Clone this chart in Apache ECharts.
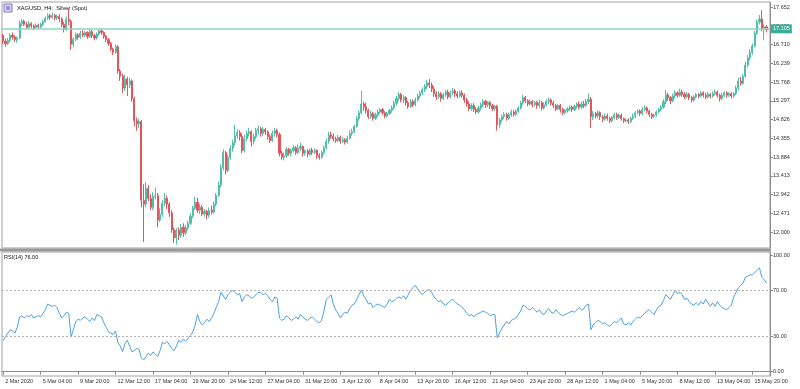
<!DOCTYPE html>
<html><head><meta charset="utf-8">
<script src="https://cdn.jsdelivr.net/npm/echarts@6/dist/echarts.min.js"></script>
<style>html,body{margin:0;padding:0;background:#fff}#c{width:800px;height:389px}</style>
</head><body><div id="c"></div>
<script>
const symbolTitle = 'XAGUSD, H4:  Silver (Spot)';
const rsiTitle = 'RSI(14) 76.00';
const timeLabels = ['2 Mar 2020','5 Mar 04:00','9 Mar 20:00','12 Mar 12:00','17 Mar 04:00','19 Mar 20:00','24 Mar 12:00','27 Mar 04:00','31 Mar 20:00','3 Apr 12:00','8 Apr 04:00','13 Apr 20:00','16 Apr 12:00','21 Apr 04:00','23 Apr 20:00','28 Apr 12:00','1 May 04:00','5 May 20:00','8 May 12:00','13 May 04:00','15 May 20:00'];
const labelEvery = 16;
const priceTicks = [12.000,12.471,12.942,13.413,13.884,14.355,14.826,15.297,15.768,16.239,16.710,17.181,17.652];
const rsiTicks = [0,30,70,100];
const rsiLevels = [30,70];
const currentPrice = 17.105;
// [open, close, low, high] per H4 bar
const candles = [
[16.95,16.80,16.72,16.98],[16.80,16.74,16.66,16.86],[16.74,16.82,16.70,16.88],[16.82,16.95,16.78,17.00],[16.95,16.90,16.84,17.02],
[16.90,16.84,16.78,16.95],[16.84,16.88,16.76,16.92],[16.88,17.25,16.85,17.32],[17.25,17.30,17.18,17.36],[17.30,17.22,17.18,17.34],
[17.22,17.15,17.10,17.28],[17.15,17.24,17.12,17.30],[17.24,17.18,17.12,17.28],[17.18,17.14,17.08,17.22],[17.14,17.20,17.10,17.25],
[17.20,17.16,17.11,17.24],[17.16,17.22,17.12,17.27],[17.22,17.30,17.18,17.34],[17.30,17.38,17.26,17.42],[17.38,17.44,17.33,17.50],
[17.44,17.40,17.34,17.49],[17.40,17.45,17.36,17.52],[17.45,17.38,17.32,17.48],[17.38,17.42,17.33,17.47],[17.42,17.36,17.28,17.48],
[17.36,17.22,17.15,17.40],[17.22,17.10,17.02,17.28],[17.10,17.35,17.06,17.42],[17.35,17.30,17.20,17.62],[17.30,16.72,16.58,17.34],
[16.72,16.85,16.64,16.90],[16.85,16.96,16.80,17.02],[16.96,16.90,16.84,17.00],[16.90,17.00,16.86,17.06],[17.00,16.95,16.90,17.08],
[16.95,17.02,16.90,17.06],[17.02,16.92,16.86,17.05],[16.92,17.04,16.88,17.10],[17.04,16.94,16.88,17.08],[16.94,16.88,16.82,16.98],
[16.88,16.98,16.84,17.02],[16.98,17.06,16.94,17.10],[17.06,17.02,16.96,17.12],[17.02,16.92,16.86,17.05],[16.92,16.84,16.78,16.96],
[16.84,16.74,16.68,16.88],[16.74,16.60,16.55,16.78],[16.60,16.52,16.45,16.64],[16.52,16.66,16.48,16.72],[16.66,16.05,15.98,16.70],
[16.05,15.92,15.80,16.10],[15.92,15.62,15.50,15.98],[15.62,15.85,15.55,15.95],[15.85,15.70,15.42,15.90],[15.70,15.80,15.62,15.88],
[15.80,15.35,15.28,15.84],[15.35,14.80,14.66,15.40],[14.80,14.72,14.55,14.88],[14.72,14.78,14.62,14.85],[14.78,12.80,12.62,14.82],
[12.80,12.70,11.75,13.20],[12.70,13.10,12.62,13.25],[13.10,12.85,12.78,13.18],[12.85,12.62,12.55,12.95],[12.62,12.90,12.55,13.00],
[12.90,12.92,12.82,13.12],[12.92,12.30,12.12,12.98],[12.30,12.45,12.25,12.60],[12.45,12.72,12.38,12.80],[12.72,12.85,12.65,12.98],
[12.85,12.70,12.58,12.92],[12.70,12.48,12.38,12.75],[12.48,12.05,11.98,12.55],[12.05,11.85,11.72,12.12],[11.85,12.05,11.68,12.10],
[12.05,11.92,11.80,12.12],[11.92,12.12,11.85,12.20],[12.12,11.98,11.88,12.22],[11.98,12.10,11.92,12.18],[12.10,12.22,12.05,12.28],
[12.22,12.40,12.18,12.48],[12.40,12.60,12.35,12.66],[12.60,12.75,12.55,12.88],[12.75,12.55,12.48,12.86],[12.55,12.62,12.45,12.70],
[12.62,12.45,12.40,12.68],[12.45,12.52,12.38,12.58],[12.52,12.42,12.32,12.56],[12.42,12.55,12.36,12.62],[12.55,12.50,12.44,12.66],
[12.50,12.70,12.46,12.76],[12.70,12.92,12.65,12.98],[12.92,13.18,12.88,13.26],[13.18,13.62,13.12,13.70],[13.62,14.00,13.55,14.08],
[14.00,13.55,13.45,14.04],[13.55,13.88,13.50,13.95],[13.88,14.10,13.82,14.18],[14.10,14.25,14.02,14.32],[14.25,14.42,14.18,14.70],
[14.42,14.50,14.35,14.58],[14.50,14.40,14.30,14.56],[14.40,14.05,13.98,14.48],[14.05,14.35,14.00,14.44],[14.35,14.48,14.28,14.55],
[14.48,14.52,14.40,14.62],[14.52,14.28,14.15,14.56],[14.28,14.40,14.20,14.48],[14.40,14.55,14.34,14.62],[14.55,14.60,14.45,14.68],
[14.60,14.48,14.40,14.64],[14.48,14.58,14.42,14.64],[14.58,14.52,14.44,14.62],[14.52,14.40,14.32,14.56],[14.40,14.30,14.24,14.45],
[14.30,14.48,14.26,14.55],[14.48,14.55,14.40,14.62],[14.55,14.45,14.38,14.60],[14.45,13.98,13.90,14.50],[13.98,13.88,13.82,14.05],
[13.88,13.92,13.80,14.00],[13.92,14.08,13.86,14.14],[14.08,13.98,13.92,14.12],[13.98,14.05,13.90,14.10],[14.05,14.12,14.00,14.18],
[14.12,14.00,13.94,14.16],[14.00,14.10,13.96,14.20],[14.10,14.15,14.04,14.25],[14.15,13.98,13.90,14.18],[13.98,14.04,13.92,14.08],
[14.04,13.96,13.88,14.08],[13.96,14.06,13.92,14.10],[14.06,14.00,13.94,14.12],[14.00,14.05,13.96,14.10],[14.05,13.92,13.84,14.08],
[13.92,13.88,13.82,13.98],[13.88,14.00,13.84,14.05],[14.00,14.12,13.95,14.18],[14.12,14.28,14.08,14.35],[14.28,14.44,14.22,14.52],
[14.44,14.40,14.34,14.52],[14.40,14.34,14.28,14.48],[14.34,14.30,14.24,14.40],[14.30,14.38,14.26,14.44],[14.38,14.28,14.22,14.42],
[14.28,14.32,14.24,14.38],[14.32,14.26,14.20,14.36],[14.26,14.36,14.22,14.42],[14.36,14.48,14.32,14.56],[14.48,14.52,14.42,14.60],
[14.52,14.66,14.48,14.70],[14.66,14.85,14.62,14.92],[14.85,15.00,14.80,15.06],[15.00,15.22,14.95,15.55],[15.22,15.15,15.05,15.28],
[15.15,15.05,14.98,15.25],[15.05,14.90,14.84,15.10],[14.90,14.98,14.85,15.05],[14.98,14.86,14.80,15.02],[14.86,14.95,14.82,15.00],
[14.95,15.02,14.90,15.08],[15.02,15.08,14.96,15.12],[15.08,15.00,14.94,15.12],[15.00,14.92,14.86,15.04],[14.92,14.98,14.88,15.02],
[14.98,15.06,14.94,15.10],[15.06,15.12,15.00,15.18],[15.12,15.24,15.08,15.30],[15.24,15.36,15.18,15.42],[15.36,15.46,15.30,15.52],
[15.46,15.32,15.26,15.50],[15.32,15.38,15.24,15.44],[15.38,15.25,15.18,15.42],[15.25,15.16,15.10,15.30],[15.16,15.28,15.12,15.34],
[15.28,15.20,15.14,15.34],[15.20,15.32,15.16,15.38],[15.32,15.42,15.28,15.48],[15.42,15.50,15.36,15.55],[15.50,15.58,15.44,15.64],
[15.58,15.66,15.52,15.72],[15.66,15.75,15.60,15.82],[15.75,15.70,15.62,15.85],[15.70,15.60,15.52,15.76],[15.60,15.48,15.40,15.66],
[15.48,15.40,15.32,15.54],[15.40,15.48,15.35,15.54],[15.48,15.36,15.28,15.52],[15.36,15.45,15.32,15.50],[15.45,15.52,15.40,15.58],
[15.52,15.40,15.34,15.58],[15.40,15.50,15.36,15.56],[15.50,15.55,15.44,15.62],[15.55,15.48,15.40,15.60],[15.48,15.42,15.36,15.54],
[15.42,15.50,15.38,15.56],[15.50,15.44,15.38,15.56],[15.44,15.32,15.25,15.48],[15.32,15.22,15.15,15.38],[15.22,15.10,15.04,15.28],
[15.10,15.18,15.05,15.24],[15.18,15.08,15.02,15.24],[15.08,15.02,14.96,15.14],[15.02,15.12,14.98,15.18],[15.12,15.20,15.06,15.26],
[15.20,15.28,15.14,15.34],[15.28,15.20,15.12,15.32],[15.20,15.26,15.14,15.30],[15.26,15.18,15.10,15.30],[15.18,15.10,15.04,15.22],
[15.10,15.16,15.04,15.20],[15.16,14.70,14.55,15.20],[14.70,14.82,14.62,14.88],[14.82,14.90,14.76,14.96],[14.90,14.96,14.84,15.02],
[14.96,14.86,14.80,15.00],[14.86,14.95,14.82,15.00],[14.95,15.02,14.90,15.08],[15.02,14.96,14.90,15.06],[14.96,15.04,14.92,15.08],
[15.04,15.12,15.00,15.16],[15.12,15.25,15.08,15.30],[15.25,15.38,15.20,15.45],[15.38,15.30,15.24,15.42],[15.30,15.22,15.16,15.34],
[15.22,15.28,15.18,15.34],[15.28,15.20,15.14,15.32],[15.20,15.26,15.16,15.30],[15.26,15.18,15.10,15.30],[15.18,15.25,15.12,15.32],
[15.25,15.12,15.06,15.30],[15.12,15.20,15.08,15.26],[15.20,15.28,15.16,15.34],[15.28,15.32,15.22,15.38],[15.32,15.24,15.18,15.36],
[15.24,15.18,15.12,15.30],[15.18,15.10,15.04,15.22],[15.10,15.18,15.06,15.22],[15.18,15.08,15.00,15.22],[15.08,15.00,14.94,15.12],
[15.00,15.06,14.96,15.10],[15.06,15.10,15.00,15.14],[15.10,15.14,15.04,15.18],[15.14,15.08,15.02,15.18],[15.08,15.16,15.04,15.20],
[15.16,15.22,15.10,15.26],[15.22,15.14,15.08,15.28],[15.14,15.22,15.10,15.28],[15.22,15.18,15.12,15.30],[15.18,15.28,15.14,15.34],
[15.28,15.34,15.22,15.48],[15.34,14.90,14.62,15.40],[14.90,14.98,14.82,15.04],[14.98,14.92,14.86,15.02],[14.92,15.00,14.86,15.06],
[15.00,14.90,14.82,15.04],[14.90,14.84,14.76,14.94],[14.84,14.92,14.80,14.98],[14.92,14.86,14.80,14.98],[14.86,14.80,14.74,14.90],
[14.80,14.88,14.76,14.92],[14.88,14.95,14.84,15.00],[14.95,14.88,14.82,15.00],[14.88,14.94,14.84,14.98],[14.94,14.85,14.80,14.98],
[14.85,14.80,14.74,14.88],[14.80,14.82,14.76,14.86],[14.82,14.78,14.72,14.86],[14.78,14.86,14.74,14.90],[14.86,14.92,14.82,14.98],
[14.92,15.00,14.86,15.04],[15.00,15.04,14.96,15.08],[15.04,14.98,14.92,15.08],[14.98,15.08,14.94,15.14],[15.08,15.12,15.04,15.18],
[15.12,15.04,14.98,15.16],[15.04,14.96,14.90,15.08],[14.96,14.90,14.84,15.00],[14.90,14.94,14.86,14.98],[14.94,15.02,14.90,15.06],
[15.02,15.08,14.98,15.12],[15.08,15.14,15.04,15.18],[15.14,15.28,15.10,15.34],[15.28,15.45,15.22,15.57],[15.45,15.38,15.30,15.50],
[15.38,15.30,15.22,15.42],[15.30,15.42,15.26,15.48],[15.42,15.50,15.36,15.56],[15.50,15.44,15.38,15.54],[15.44,15.52,15.40,15.60],
[15.52,15.46,15.40,15.58],[15.46,15.40,15.34,15.52],[15.40,15.46,15.36,15.52],[15.46,15.38,15.32,15.50],[15.38,15.32,15.26,15.42],
[15.32,15.40,15.28,15.44],[15.40,15.46,15.36,15.50],[15.46,15.42,15.36,15.50],[15.42,15.50,15.38,15.54],[15.50,15.44,15.38,15.54],
[15.44,15.40,15.34,15.50],[15.40,15.46,15.36,15.52],[15.46,15.42,15.36,15.50],[15.42,15.48,15.38,15.54],[15.48,15.52,15.44,15.58],
[15.52,15.44,15.38,15.56],[15.44,15.36,15.28,15.48],[15.36,15.44,15.32,15.50],[15.44,15.50,15.40,15.54],[15.50,15.44,15.38,15.54],
[15.44,15.48,15.40,15.52],[15.48,15.42,15.36,15.52],[15.42,15.48,15.38,15.52],[15.48,15.62,15.44,15.68],[15.62,15.80,15.56,15.88],
[15.80,15.74,15.68,15.90],[15.74,15.92,15.70,15.98],[15.92,16.20,15.88,16.28],[16.20,16.38,16.14,16.45],[16.38,16.52,16.32,16.60],
[16.52,16.68,16.46,16.74],[16.68,17.00,16.64,17.06],[17.00,17.28,16.96,17.34],[17.28,17.36,17.22,17.46],[17.36,17.12,17.05,17.58],
[17.12,17.16,16.82,17.22],[17.16,17.10,17.02,17.20]
];
const rsi = [
26.5,30,33,36,35,33,38,47,48,46, 48,47,49,46,47,48,47,50,53,58, 57,56,57,55,50,46,48,51,50,30,
36,43,45,44,46,47,45,43,46,44, 49,48,47,42,38,34,33,32,35,25, 22,17,24,27,22,17,18,20,19,12,
10,13,16,14,17,15,13,18,25,24, 26,23,20,18,22,27,25,28,26,29, 31,34,40,49,43,40,42,45,43,46,
50,55,60,68,65,62,66,68,70,68, 66,67,60,64,66,65,63,64,66,68, 68,66,67,65,62,60,64,63,46,44,
45,48,46,44,45,47,45,49,47,45, 44,46,47,45,43,42,44,52,62,64, 66,58,53,50,46,49,51,50,54,57,
58,62,66,70,65,62,58,59,55,57, 58,57,56,55,58,62,60,61,63,64, 63,65,62,66,70,72,74,71,68,66,
68,70,70,68,64,62,60,61,58,57, 59,61,62,60,58,57,55,53,50,48, 49,47,49,50,51,52,51,50,48,49,
49,29,33,37,40,43,41,44,45,46, 49,52,57,56,54,53,55,53,51,53, 50,49,52,54,51,50,53,51,49,48,
49,50,51,52,51,53,55,53,54,57, 58,36,40,42,44,43,41,42,40,39, 41,43,42,44,46,41,40,42,40,43,
45,47,46,48,50,52,53,51,49,53, 56,57,61,66,64,62,66,70,67,68, 66,62,63,60,58,57,59,57,60,58,
62,59,56,59,56,60,57,55,54,53, 55,57,64,68,72,74,76,81,82,83, 83,85,87,89,81,79,76
];

const FONT = '"Liberation Sans",Arial,sans-serif';
const FS = 5.5;
const cats = Array.from({length: candles.length + 1}, (_, i) => i);
const showIdx = i => i % labelEvery === 0 && i / labelEvery < timeLabels.length;
const chart = echarts.init(document.getElementById('c'), null, {renderer: 'canvas'});
const axisGray = '#8c8c8c';
chart.setOption({
  animation: false,
  backgroundColor: '#fff',
  grid: [
    {left: 2, right: 30, top: 2, height: 246, show: true, borderColor: '#a0a0a0', borderWidth: 1},
    {left: 2, right: 30, top: 252, height: 124, show: true, borderColor: '#a0a0a0', borderWidth: 1}
  ],
  xAxis: [
    {type: 'category', gridIndex: 0, data: cats, boundaryGap: true, axisLine: {show: false}, axisTick: {show: false}, axisLabel: {show: false}},
    {type: 'category', gridIndex: 1, data: cats, boundaryGap: true,
     axisLine: {show: true, lineStyle: {color: axisGray}},
     axisTick: {show: true, alignWithLabel: true, interval: (i) => showIdx(i), length: 3, lineStyle: {color: axisGray}},
     axisLabel: {show: true, interval: (i) => showIdx(i), formatter: (v, i) => timeLabels[i / labelEvery] || '', align: 'left', margin: 2, padding: [0,0,0,2], fontSize: FS, fontFamily: FONT, color: '#333', hideOverlap: false}}
  ],
  yAxis: [
    {type: 'value', gridIndex: 0, position: 'right', min: 11.5975, max: 17.7853, splitLine: {show: false},
     axisLine: {show: true, lineStyle: {color: axisGray}},
     axisTick: {show: true, customValues: priceTicks, length: 3, lineStyle: {color: axisGray}},
     axisLabel: {customValues: priceTicks, formatter: v => v.toFixed(3), margin: 3, fontSize: FS, fontFamily: FONT, color: '#333'}},
    {type: 'value', gridIndex: 1, position: 'right', min: -3.68, max: 102.57, splitLine: {show: false},
     axisLine: {show: true, lineStyle: {color: axisGray}},
     axisTick: {show: true, customValues: rsiTicks, length: 3, lineStyle: {color: axisGray}},
     axisLabel: {customValues: rsiTicks, formatter: v => v.toFixed(2), margin: 3, fontSize: FS, fontFamily: FONT, color: '#333'}}
  ],
  series: [
    {type: 'candlestick', xAxisIndex: 0, yAxisIndex: 0, data: candles, barWidth: 1.6,
     itemStyle: {color: '#4fbfa9', color0: '#e5535b', borderColor: '#4fbfa9', borderColor0: '#e5535b', borderWidth: 1},
     markLine: {silent: true, symbol: ['none','none'], animation: false,
       data: [{yAxis: currentPrice}],
       lineStyle: {color: '#8fd4c6', width: 1.5, type: 'solid'},
       label: {show: true, position: 'end', formatter: currentPrice.toFixed(3), backgroundColor: '#3aae97', color: '#fff', fontSize: FS, fontFamily: FONT, padding: [2,2,1,2], distance: 1}}},
    {type: 'line', xAxisIndex: 1, yAxisIndex: 1, data: rsi, showSymbol: false, symbol: 'none',
     lineStyle: {color: '#4f9fe3', width: 1}, itemStyle: {color: '#4f9fe3'},
     markLine: {silent: true, symbol: ['none','none'], animation: false, label: {show: false},
       data: rsiLevels.map(v => ({yAxis: v})),
       lineStyle: {color: '#b5b5b5', width: 1, type: [2,2]}}}
  ],
  graphic: [
    {type: 'rect', shape: {x: 0, y: 248.5, width: 771, height: 3}, style: {fill: '#9a9a9a'}, z: 100},
    {type: 'rect', shape: {x: 4, y: 4, width: 8, height: 8}, style: {fill: '#d9d6f2', stroke: '#7d76c8', lineWidth: 1}, z: 100},
    {type: 'rect', shape: {x: 6, y: 6, width: 4, height: 4}, style: {fill: '#9a93de'}, z: 100},
    {type: 'text', x: 17, y: 8, style: {text: symbolTitle, fontSize: 5.7, fontFamily: FONT, fill: '#111', verticalAlign: 'middle'}, z: 100},
    {type: 'text', x: 4, y: 257, style: {text: rsiTitle, fontSize: FS, fontFamily: FONT, fill: '#111', verticalAlign: 'middle'}, z: 100}
  ]
});
</script></body></html>
